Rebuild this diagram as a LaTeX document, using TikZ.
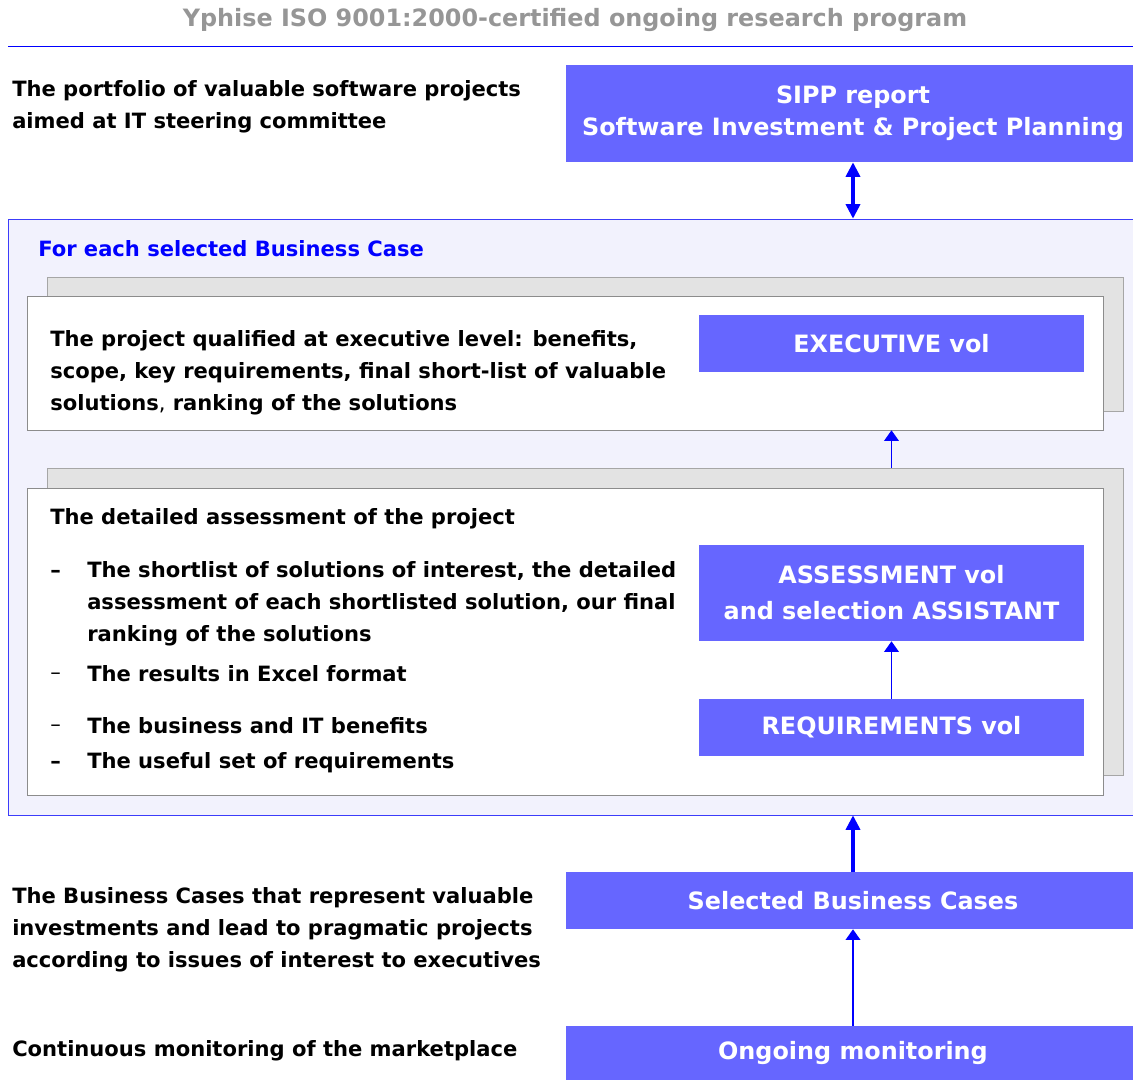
\documentclass[tikz,border=0pt]{standalone}
\usepackage{fontspec}
\setmainfont{DejaVu Sans}
\usetikzlibrary{arrows.meta}
\definecolor{boxblue}{RGB}{102,102,255}
\definecolor{arrowblue}{RGB}{0,0,255}
\definecolor{frameblue}{RGB}{60,60,250}
\definecolor{framefill}{RGB}{242,242,253}
\definecolor{backgray}{RGB}{227,227,227}
\definecolor{backline}{RGB}{166,166,166}
\definecolor{panelline}{RGB}{140,140,140}
\definecolor{titlegray}{RGB}{150,150,150}

\begin{document}
\begin{tikzpicture}[x=0.75pt, y=-0.75pt,
        font=\fontsize{15.8}{24}\selectfont\bfseries,
        big/.style = {font=\fontsize{17.9}{24}\selectfont\bfseries},
        txt/.style = {anchor=west, align=left, inner sep=0pt},
        bul/.style = {anchor=west, inner sep=0pt, text height=12pt, text depth=3.7pt},
        vol/.style = {big, fill=boxblue, text=white, inner sep=0pt, minimum width=288.75pt, align=center},
        wide/.style = {big, fill=boxblue, text=white, inner sep=0pt, minimum width=430.5pt, align=center},
        panel/.style = {draw=panelline, fill=white, inner sep=0pt, minimum width=807pt},
        back/.style = {draw=backline, fill=backgray, inner sep=0pt, minimum width=807pt},
        fatarrow/.style = {draw=arrowblue, line width=3pt, -{Triangle[width=10.5pt, length=11pt]}},
        fatboth/.style = {draw=arrowblue, line width=3pt, {Triangle[width=10.5pt, length=11pt]}-{Triangle[width=10.5pt, length=11pt]}},
        thinarrow/.style = {draw=arrowblue, line width=1.1pt, -{Triangle[width=11pt, length=8pt]}}]

        \useasboundingbox (0,0) rectangle (1133,1080);

        \node [big, text=titlegray] (title) at (575, 20) {Yphise ISO 9001:2000-certified ongoing research program};
        \draw [arrowblue] (8, 46) -- (1133, 46);

        \node [txt] (portfolio) at (12, 107) {The portfolio of valuable software projects\\aimed at IT steering committee};
        \node [wide, minimum height=72.75pt] (sipp) at (853, 113.5) {SIPP report\\Software Investment \& Project Planning};

        \node [draw=frameblue, fill=framefill, inner sep=0pt, minimum width=849pt, minimum height=447pt] (frame) at (574, 517) {};
        \node [txt, text=arrowblue] (foreach) at (38, 249) {For each selected Business Case};

        % executive level
        \node [back, minimum height=100.5pt] (execback) at (585, 344) {};
        \node [panel, minimum height=100.5pt] (execpanel) at (565, 363) {};
        \node [txt] (exectext) at (50, 373) {The project qualified at executive level: benefits,\\scope, key requirements, final short-list of valuable\\solutions{\mdseries,} ranking of the solutions};
        \node [vol, minimum height=42.75pt] (execvol) at (891.5, 343.5) {EXECUTIVE vol};

        % assessment level
        \node [back, minimum height=230.25pt] (assessback) at (585, 621.5) {};
        \node [panel, minimum height=230.25pt] (assesspanel) at (565, 641.5) {};
        \node [txt] (assesstext) at (50, 519) {The detailed assessment of the project};
        \foreach \y/\wt [count=\i] in {572/\bfseries, 674/\mdseries, 726/\mdseries, 763/\bfseries}
                 {
                   \node [bul] (dash\i) at (50, \y) {\wt --};
                 }
        \node [txt] (item1) at (87, 604) {The shortlist of solutions of interest, the detailed\\assessment of each shortlisted solution, our final\\ranking of the solutions};
        \node [txt] (item2) at (87, 674) {The results in Excel format};
        \node [txt] (item3) at (87, 726) {The business and IT benefits};
        \node [txt] (item4) at (87, 763) {The useful set of requirements};
        \node [vol, minimum height=72pt] (assessvol) at (891.5, 593) {ASSESSMENT vol\\[3pt]and selection ASSISTANT};
        \node [vol, minimum height=42.75pt] (reqvol) at (891.5, 727.5) {REQUIREMENTS vol};

        % inputs
        \node [txt] (bctext) at (12, 930) {The Business Cases that represent valuable\\investments and lead to pragmatic projects\\according to issues of interest to executives};
        \node [wide, minimum height=42.75pt] (sel) at (853, 900.5) {Selected Business Cases};
        \node [txt] (montext) at (12, 1051) {Continuous monitoring of the marketplace};
        \node [wide, minimum height=41.25pt] (ongoing) at (853, 1053.5) {Ongoing monitoring};

        \draw [fatboth] (sipp.south) -- (sipp.south |- frame.north);
        \draw [thinarrow] (assessback.north -| execvol.south) -- (execpanel.south -| execvol.south);
        \draw [thinarrow] (reqvol.north) -- (assessvol.south);
        \draw [fatarrow] (sel.north) -- (sel.north |- frame.south);
        \draw [thinarrow] (ongoing.north) -- (sel.south);
\end{tikzpicture}
\end{document}
